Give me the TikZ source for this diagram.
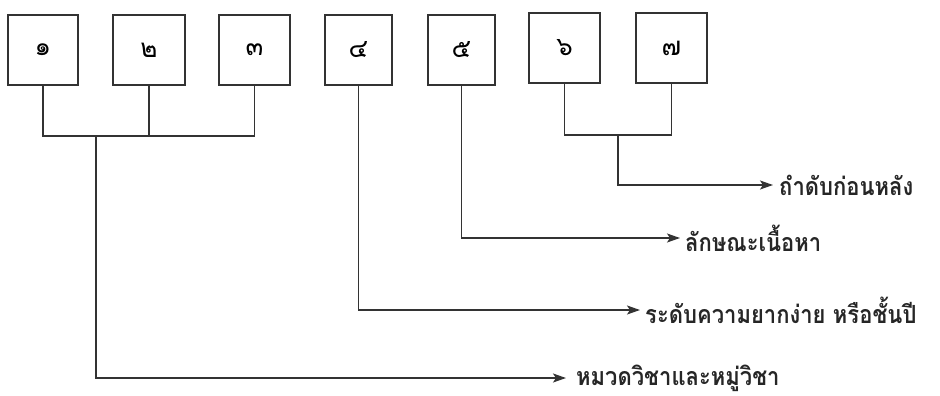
\documentclass[tikz,border=0pt]{standalone}
\usepackage{fontspec}
\newfontfamily\thaifont[Script=Thai]{Loma}
\newfontfamily\thaicond[Script=Thai,FakeStretch=0.88]{Loma}
\usetikzlibrary{arrows.meta}
\begin{document}
\begin{tikzpicture}[x=1pt,y=-1pt,
  numbox/.style={draw=black!80,line width=1.8pt,minimum width=70pt,minimum height=70pt,inner sep=0pt,font=\thaifont\fontsize{26}{30}\selectfont},
  link/.style={draw=black!80,line width=1.8pt},
  arr/.style={link,-{Stealth[length=13pt,width=9pt,inset=3pt]}},
  lbl/.style={anchor=west,inner sep=0pt,text=black!85,font=\thaicond\bfseries\fontsize{25}{28}\selectfont}]
\useasboundingbox (0,0) rectangle (940,396);
\node[numbox] (b1) at (43,50) {๑};
\node[numbox,minimum width=72pt] (b2) at (149,50) {๒};
\node[numbox,minimum width=71pt] (b3) at (254.5,50) {๓};
\node[numbox,minimum width=67pt] (b4) at (358.5,50) {๔};
\node[numbox,minimum width=67pt] (b5) at (461.5,50) {๕};
\node[numbox,minimum width=71pt] (b6) at (564.5,48) {๖};
\node[numbox,minimum width=71pt] (b7) at (671.5,48) {๗};
\coordinate (j1) at (96,136);
\coordinate (j2) at (618,135);
\coordinate (t1) at (773,185);
\coordinate (t2) at (680,238);
\coordinate (t3) at (640,310);
\coordinate (t4) at (566,378);
\node[lbl] (l1) at ([xshift=6pt]t1) {ถำดับก่อนหลัง};
\node[lbl] (l2) at ([xshift=5pt]t2) {ลักษณะเนื้อหา};
\node[lbl] (l3) at ([xshift=5pt]t3) {ระดับความยากง่าย หรือชั้นปี};
\node[lbl] (l4) at ([xshift=10pt]t4) {หมวดวิชาและหมู่วิชา};
\draw[link] (b1.south) |- (j1) -| (b3.south);
\draw[link] (b2.south) -- (b2.south |- j1);
\draw[arr] (j1) |- (t4);
\draw[arr] (b4.south) |- (t3);
\draw[arr] (b5.south) |- (t2);
\draw[link] (b6.south) |- (j2) -| (b7.south);
\draw[arr] (j2) |- (t1);
\end{tikzpicture}
\end{document}
